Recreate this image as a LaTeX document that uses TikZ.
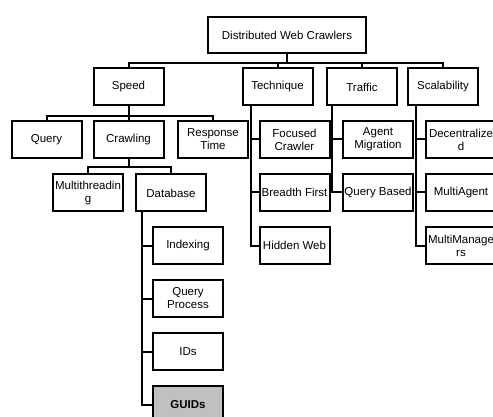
\documentclass[tikz,border=0pt]{standalone}
\usepackage{fontspec}
\setmainfont{Liberation Sans}
\usepackage{tikz}
\definecolor{guidgray}{RGB}{192,192,192}

\begin{document}
\begin{tikzpicture}[x=1pt,y=1pt,node distance=53pt,
  box/.style={draw,line width=2pt,minimum width=70pt,minimum height=37pt,
    inner sep=0pt,align=center,font=\fontsize{11.5}{13}\selectfont},
  link/.style={line width=2pt}]
  \useasboundingbox (0,0) rectangle (493,-417);
  \clip (0,0) rectangle (493,-417);

  % top and first level
  \node[box,minimum width=158pt,minimum height=36pt] (root) at (287,-35) {Distributed Web Crawlers};
  \node[box] (speed)   at (128.5,-87) {Speed};
  \node[box] (tech)    at (277.5,-87) {Technique};
  \node[box] (traffic) at (362,-87)   {Traffic};
  \node[box] (scal)    at (443,-87)   {Scalability};

  % speed branch
  \node[box] (query) at (46.5,-139.5) {Query};
  \node[box] (crawl) at (128.5,-139.5) {Crawling};
  \node[box] (resp)  at (213,-139.5) {Response\\Time};
  \node[box] (multi) at (88,-193) {Multithreadin\\g};
  \node[box] (db)    at (171,-193) {Database};
  \node[box] (idx)   at (188,-245.5) {Indexing};
  \node[box] (qproc) [below of=idx]   {Query\\Process};
  \node[box] (ids)   [below of=qproc] {IDs};
  \node[box,fill=guidgray,font=\fontsize{11.5}{13}\selectfont\bfseries] (guids) [below of=ids] {GUIDs};

  % technique, traffic, scalability
  \node[box] (focus)   at (294.5,-139.5) {Focused\\Crawler};
  \node[box] (breadth) [below of=focus]   {Breadth First};
  \node[box] (hidden)  [below of=breadth] {Hidden Web};
  \node[box] (agent)   at (378,-139.5) {Agent\\Migration};
  \node[box] (qbased)  [below of=agent]  {Query Based};
  \node[box] (decent)  at (461,-139.5) {Decentralize\\d};
  \node[box] (magent)  [below of=decent] {MultiAgent};
  \node[box] (mmgr)    [below of=magent] {MultiManage\\rs};

  % connectors
  \foreach \n in {speed,tech,traffic,scal}
    \draw[link] (root.south) -- ++(0,-9) -| (\n.north);
  \foreach \n in {query,crawl,resp}
    \draw[link] (speed.south) -- ++(0,-10) -| (\n.north);
  \foreach \n in {multi,db}
    \draw[link] (crawl.south) -- ++(0,-8) -| (\n.north);
  \foreach \n in {idx,qproc,ids,guids}
    \draw[link] ([xshift=7pt]db.south west) |- (\n.west);
  \foreach \n in {focus,breadth,hidden}
    \draw[link] ([xshift=9pt]tech.south west) |- (\n.west);
  \foreach \n in {agent,qbased}
    \draw[link] ([xshift=6pt]traffic.south west) |- (\n.west);
  \foreach \n in {decent,magent,mmgr}
    \draw[link] ([xshift=9pt]scal.south west) |- (\n.west);
\end{tikzpicture}
\end{document}
